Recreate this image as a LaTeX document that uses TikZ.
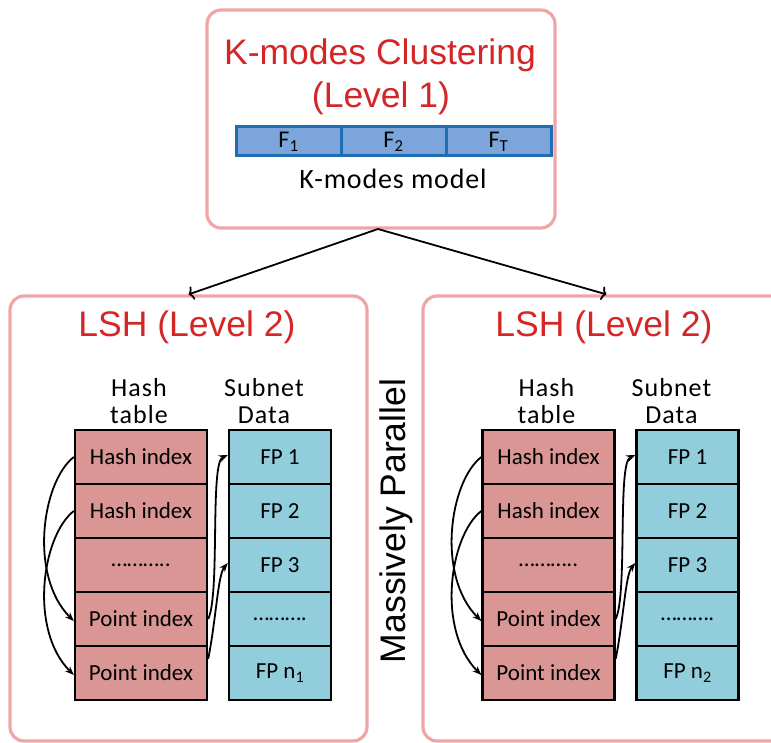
\documentclass[tikz,border=0pt]{standalone}
\usepackage{fontspec}
\setmainfont{Carlito}
\newfontfamily\arialfont{Liberation Sans}
\usetikzlibrary{arrows.meta}

\definecolor{panelpink}{RGB}{241,165,165}
\definecolor{titlered}{RGB}{212,38,38}
\definecolor{hashfill}{RGB}{217,150,148}
\definecolor{datafill}{RGB}{146,205,220}
\definecolor{barfill}{RGB}{124,165,220}
\definecolor{barline}{RGB}{31,110,180}

\begin{document}
\begin{tikzpicture}[x=1pt,y=-1pt,
  panel/.style={draw=panelpink, line width=3.2pt, rounded corners=14pt, fill=white, inner sep=0pt},
  title/.style={text=titlered, font=\arialfont\fontsize{35.5}{40}\selectfont, anchor=base, inner sep=0pt},
  barcell/.style={draw=barline, fill=barfill, line width=3pt, minimum width=105pt, minimum height=29pt,
    inner sep=0pt, font=\fontsize{24}{26}\selectfont},
  hcell/.style={draw=black, fill=hashfill, line width=2.4pt, minimum width=132pt, minimum height=54pt,
    inner sep=0pt, font=\fontsize{23}{26}\selectfont},
  dcell/.style={draw=black, fill=datafill, line width=2.4pt, minimum width=102pt, minimum height=54pt,
    inner sep=0pt, font=\fontsize{23}{26}\selectfont},
  header/.style={align=center, inner sep=0pt, font=\addfontfeature{LetterSpace=4}\fontsize{26}{27}\selectfont},
  link/.style={line width=1.8pt, -{Stealth[length=9pt,width=7pt]}},
  fan/.style={line width=1.8pt, -{To[length=5pt,width=14pt]}}]

\clip (0,0) rectangle (771,743);

% level-1 box
\node[panel, minimum width=348pt, minimum height=218pt] (top) at (381,119) {};
\node[title] (t1a) at (380,65) {K-modes Clustering};
\node[title] (t1b) at (381,108) {(Level 1)};
\node[barcell] (f1) at (288.5,141.5) {F\textsubscript{1}};
\node[barcell] (f2) at (393.5,141.5) {F\textsubscript{2}};
\node[barcell] (f3) at (498.5,141.5) {F\textsubscript{T}};
\node[inner sep=0pt, font=\addfontfeature{LetterSpace=3}\fontsize{28}{30}\selectfont] (model) at (393,179) {K-modes model};

% level-2 boxes
\node[panel, minimum width=357pt, minimum height=445pt] (lbox) at (188.5,518.5) {};
\node[panel, minimum width=367pt, minimum height=445pt] (rbox) at (606.5,518.5) {};
\node[title] (t2l) at (187,337) {LSH (Level 2)};
\node[title] (t2r) at (604,337) {LSH (Level 2)};

% fan-out from the clustering level
\coordinate (fork) at (378,229);
\draw[fan] (fork) -- (lbox.north);
\draw[fan] (fork) -- (rbox.north);

% parallel label
\node[rotate=90, inner sep=0pt, font=\arialfont\fontsize{35.5}{40}\selectfont] (par) at (396,521) {Massively Parallel};

% hash table + subnet data, one per LSH box
\foreach \p/\dx/\n in {L/0/1, R/407.5/2}{
  \begin{scope}[xshift=\dx]
    \node[header] (\p-hh) at (139,401) {Hash\\table};
    \node[header] (\p-dh) at (264,401) {Subnet\\Data};
    \node[hcell] (\p-h1) at (141,457) {Hash index};
    \node[hcell] (\p-h2) at (141,511) {Hash index};
    \node[hcell] (\p-h3) at (141,565) {………..};
    \node[hcell] (\p-h4) at (141,619) {Point index};
    \node[hcell] (\p-h5) at (141,673) {Point index};
    \node[dcell] (\p-d1) at (280,457) {FP 1};
    \node[dcell] (\p-d2) at (280,511) {FP 2};
    \node[dcell] (\p-d3) at (280,565) {FP 3};
    \node[dcell] (\p-d4) at (280,619) {……….};
    \node[dcell] (\p-d5) at (280,673) {FP n\textsubscript{\n}};
    % hash index -> point index
    \draw[link] (\p-h1.west) .. controls +(-32,25) and +(-45,-45) .. ([yshift=-2]\p-h4.west);
    \draw[link] (\p-h2.west) .. controls +(-32,25) and +(-45,-45) .. ([yshift=-2]\p-h5.west);
    % point index -> data
    \draw[link] (\p-h4.east) .. controls +(12,-25) and +(-18,8) .. ([yshift=2]\p-d1.west);
    \draw[link] ([yshift=-14]\p-h5.north east) .. controls +(8,-40) and +(-10,12) .. ([yshift=2]\p-d3.west);
  \end{scope}
}
\end{tikzpicture}
\end{document}
